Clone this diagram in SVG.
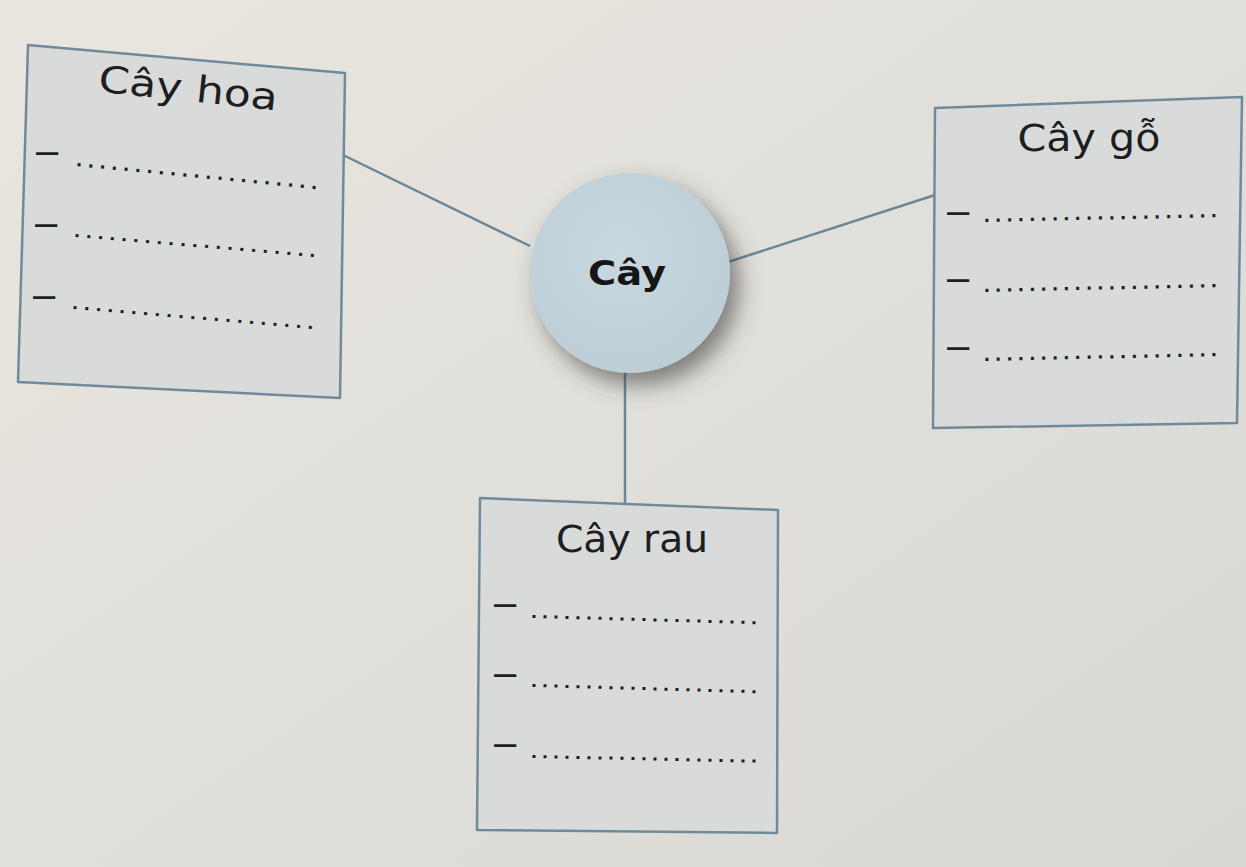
<svg xmlns="http://www.w3.org/2000/svg" width="1246" height="867" viewBox="0 0 1246 867">
<defs>
<linearGradient id="bg" x1="0" y1="0" x2="1" y2="1">
<stop offset="0" stop-color="#e9e6df"/>
<stop offset="0.5" stop-color="#e1dfd9"/>
<stop offset="1" stop-color="#d9d8d3"/>
</linearGradient>
<radialGradient id="ball" cx="0.45" cy="0.4" r="0.65">
<stop offset="0" stop-color="#c9d8df"/>
<stop offset="1" stop-color="#bccdd6"/>
</radialGradient>
<filter id="sh" x="-40%" y="-40%" width="190%" height="190%">
<feDropShadow dx="9" dy="12" stdDeviation="11" flood-color="#3e3e3c" flood-opacity="0.6"/>
</filter>
<style>
.box{fill:#d9dada;stroke:#6f8b9b;stroke-width:2.5;stroke-linejoin:round}
.conn{stroke:#6a8797;stroke-width:2.5;fill:none}
.title{font-family:"DejaVu Sans","Liberation Sans",sans-serif;font-size:37px;fill:#1e1e1e}
.dash{font-family:"Liberation Sans",sans-serif;font-size:40px;fill:#1e1e1e}
.dots{font-family:"Liberation Sans",sans-serif;font-size:21px;font-weight:bold;fill:#1e1e1e}
.center{font-family:"DejaVu Sans","Liberation Sans",sans-serif;font-size:34px;font-weight:bold;fill:#151515}
</style>
</defs>
<rect width="1246" height="867" fill="url(#bg)"/>
<g id="connectors">
<line class="conn" x1="343" y1="155" x2="530" y2="246"/>
<line class="conn" x1="728" y1="262" x2="935" y2="195"/>
<line class="conn" x1="625" y1="372" x2="625" y2="504"/>
</g>
<g id="cay-hoa">
<polygon class="box" points="28,45 345,73 340,398 18,382"/>
<text class="title" x="187" y="101" text-anchor="middle" textLength="180" lengthAdjust="spacingAndGlyphs" transform="rotate(6 187 101)">Cây hoa</text>
<text class="dash" x="36" y="164">–</text>
<text class="dots" x="76" y="166" textLength="242" lengthAdjust="spacing" transform="rotate(5.5 76 166)">.....................</text>
<text class="dash" x="35" y="236">–</text>
<text class="dots" x="74" y="237" textLength="242" lengthAdjust="spacing" transform="rotate(4.8 74 237)">.....................</text>
<text class="dash" x="33" y="308">–</text>
<text class="dots" x="72" y="309" textLength="242" lengthAdjust="spacing" transform="rotate(4.8 72 309)">.....................</text>
</g>
<g id="cay-go">
<polygon class="box" points="935,108 1242,97 1237,423 933,428"/>
<text class="title" x="1089" y="151" text-anchor="middle" textLength="143" lengthAdjust="spacingAndGlyphs">Cây gỗ</text>
<text class="dash" x="947" y="224">–</text>
<text class="dots" x="984" y="222" textLength="233" lengthAdjust="spacing" transform="rotate(-1.2 984 222)">.....................</text>
<text class="dash" x="947" y="291">–</text>
<text class="dots" x="984" y="292" textLength="233" lengthAdjust="spacing" transform="rotate(-1.2 984 292)">.....................</text>
<text class="dash" x="947" y="359">–</text>
<text class="dots" x="984" y="361" textLength="233" lengthAdjust="spacing" transform="rotate(-1.2 984 361)">.....................</text>
</g>
<g id="cay-rau">
<polygon class="box" points="480,498 778,510 777,833 477,830"/>
<text class="title" x="632" y="552" text-anchor="middle" textLength="152" lengthAdjust="spacingAndGlyphs">Cây rau</text>
<text class="dash" x="494" y="616">–</text>
<text class="dots" x="531" y="618" textLength="226" lengthAdjust="spacing" transform="rotate(1.6 531 618)">.....................</text>
<text class="dash" x="494" y="686">–</text>
<text class="dots" x="531" y="687" textLength="226" lengthAdjust="spacing" transform="rotate(1.6 531 687)">.....................</text>
<text class="dash" x="494" y="756">–</text>
<text class="dots" x="531" y="758" textLength="226" lengthAdjust="spacing" transform="rotate(1.2 531 758)">.....................</text>
</g>
<g id="cay">
<circle cx="630" cy="273" r="100" fill="url(#ball)" filter="url(#sh)"/>
<text class="center" x="627" y="285" text-anchor="middle" textLength="78" lengthAdjust="spacingAndGlyphs">Cây</text>
</g>
</svg>
